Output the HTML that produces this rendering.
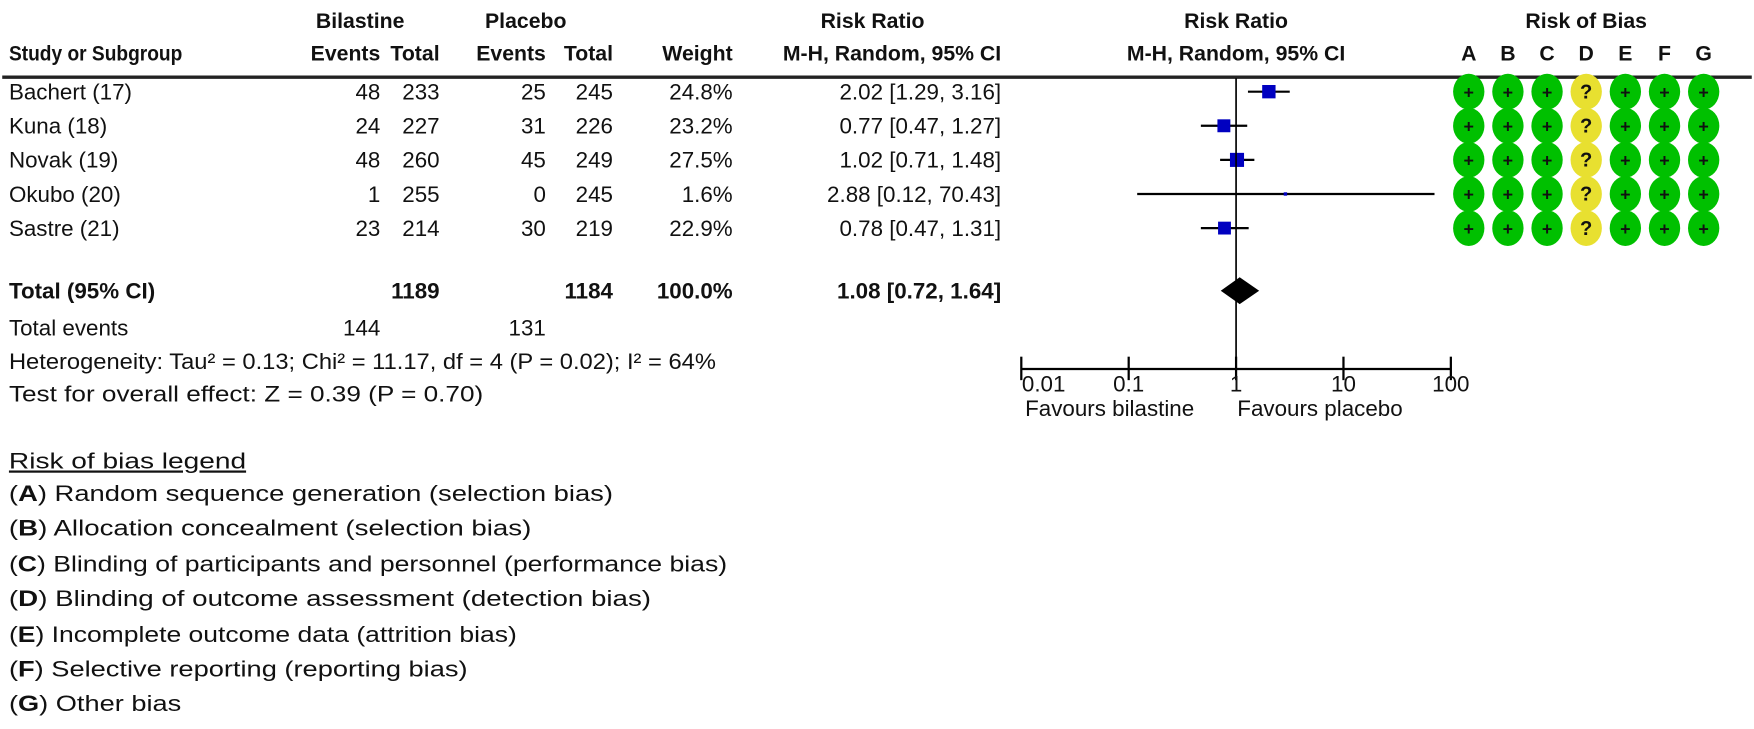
<!DOCTYPE html>
<html><head><meta charset="utf-8">
<style>
html,body{margin:0;padding:0;background:#fff;}
svg{display:block;font-family:"Liberation Sans",Arial,sans-serif;font-size:19px;fill:#111;}
.b{font-weight:bold;}
</style></head>
<body>
<svg id="chart" width="1754" height="729" viewBox="0 0 1568 652" preserveAspectRatio="none" xmlns="http://www.w3.org/2000/svg">
<g class="b">
<text x="322" y="25" text-anchor="middle">Bilastine</text>
<text x="470" y="25" text-anchor="middle">Placebo</text>
<text x="780" y="25" text-anchor="middle">Risk Ratio</text>
<text x="1105" y="25" text-anchor="middle">Risk Ratio</text>
<text x="1418" y="25" text-anchor="middle">Risk of Bias</text>
<text x="8" y="54" textLength="155" lengthAdjust="spacingAndGlyphs">Study or Subgroup</text>
<text x="340" y="54" text-anchor="end">Events</text>
<text x="393" y="54" text-anchor="end">Total</text>
<text x="488" y="54" text-anchor="end">Events</text>
<text x="548" y="54" text-anchor="end">Total</text>
<text x="655" y="54" text-anchor="end">Weight</text>
<text x="895" y="54" text-anchor="end">M-H, Random, 95% CI</text>
<text x="1105" y="54" text-anchor="middle">M-H, Random, 95% CI</text>
</g>
<line x1="2" y1="69" x2="1566" y2="69" stroke="#222" stroke-width="3"/>
<g id="rows" style="font-size:20px"></g>
<g id="plot" style="font-size:20px"></g>
<g id="rob"></g>
<g class="b" style="font-size:20px">
<text x="8" y="267">Total (95% CI)</text>
<text x="393" y="267" text-anchor="end">1189</text>
<text x="548" y="267" text-anchor="end">1184</text>
<text x="655" y="267" text-anchor="end">100.0%</text>
<text x="895" y="267" text-anchor="end">1.08 [0.72, 1.64]</text>
</g>
<g style="font-size:20px">
<text x="8" y="300">Total events</text>
<text x="340" y="300" text-anchor="end">144</text>
<text x="488" y="300" text-anchor="end">131</text>
<text x="8" y="330" textLength="632" lengthAdjust="spacingAndGlyphs">Heterogeneity: Tau² = 0.13; Chi² = 11.17, df = 4 (P = 0.02); I² = 64%</text>
<text x="8" y="359" textLength="424" lengthAdjust="spacingAndGlyphs">Test for overall effect: Z = 0.39 (P = 0.70)</text>
<text x="8" y="419" textLength="212" lengthAdjust="spacingAndGlyphs" text-decoration="underline">Risk of bias legend</text>
<g>
<text x="8" y="448" textLength="540" lengthAdjust="spacingAndGlyphs">(<tspan class="b">A</tspan>) Random sequence generation (selection bias)</text>
<text x="8" y="479" textLength="467" lengthAdjust="spacingAndGlyphs">(<tspan class="b">B</tspan>) Allocation concealment (selection bias)</text>
<text x="8" y="511" textLength="642" lengthAdjust="spacingAndGlyphs">(<tspan class="b">C</tspan>) Blinding of participants and personnel (performance bias)</text>
<text x="8" y="542" textLength="574" lengthAdjust="spacingAndGlyphs">(<tspan class="b">D</tspan>) Blinding of outcome assessment (detection bias)</text>
<text x="8" y="574" textLength="454" lengthAdjust="spacingAndGlyphs">(<tspan class="b">E</tspan>) Incomplete outcome data (attrition bias)</text>
<text x="8" y="605" textLength="410" lengthAdjust="spacingAndGlyphs">(<tspan class="b">F</tspan>) Selective reporting (reporting bias)</text>
<text x="8" y="636" textLength="154" lengthAdjust="spacingAndGlyphs">(<tspan class="b">G</tspan>) Other bias</text>
</g>
</g>
<script>
const studies = ["Bachert (17)","Kuna (18)","Novak (19)","Okubo (20)","Sastre (21)"];
const bilEvents = [48,24,48,1,23];
const bilTotal = [233,227,260,255,214];
const plaEvents = [25,31,45,0,30];
const plaTotal = [245,226,249,245,219];
const weights = [24.8,23.2,27.5,1.6,22.9];
const rr = [2.02,0.77,1.02,2.88,0.78];
const lo = [1.29,0.47,0.71,0.12,0.47];
const hi = [3.16,1.27,1.48,70.43,1.31];
const totalRR = [1.08,0.72,1.64];
const ticks = [0.01,0.1,1,10,100];
const tickLabels = ["0.01","0.1","1","10","100"];
const robLetters = ["A","B","C","D","E","F","G"];
const robJudgements = [
 ["+","+","+","?","+","+","+"],
 ["+","+","+","?","+","+","+"],
 ["+","+","+","?","+","+","+"],
 ["+","+","+","?","+","+","+"],
 ["+","+","+","?","+","+","+"]];

const NS="http://www.w3.org/2000/svg";
const X0=1105, DEC=96;
function xs(v){return X0+DEC*Math.log10(v);}
function rowY(i){return 82+i*30.5;}
function mk(tag,parent,attrs,txt){const e=document.createElementNS(NS,tag);for(const k in attrs)e.setAttribute(k,attrs[k]);if(txt!==undefined)e.textContent=txt;parent.appendChild(e);return e;}
const rows=document.getElementById('rows'), plot=document.getElementById('plot'), rob=document.getElementById('rob');
studies.forEach((s,i)=>{
 const y=rowY(i)+7;
 let t;
 t=mk('text',rows,{x:8,y:y},s);
 
 
 const cols=[[340,bilEvents[i]],[393,bilTotal[i]],[488,plaEvents[i]],[548,plaTotal[i]],[655,weights[i].toFixed(1)+'%'],[895,rr[i].toFixed(2)+' ['+lo[i].toFixed(2)+', '+hi[i].toFixed(2)+']']];
 cols.forEach(c=>{
  t=mk('text',rows,{x:c[0],y:y,'text-anchor':'end'},String(c[1]));
  
  
 });
 const cy=rowY(i);
 let l=mk('line',plot,{x1:xs(lo[i]),x2:xs(hi[i]),y1:cy,y2:cy,stroke:'#000','stroke-width':2});
 
 
 const sz=Math.max(2,Math.sqrt(weights[i])*2.4);
 let r=mk('rect',plot,{x:xs(rr[i])-sz/2,y:cy-sz/2,width:sz,height:sz,fill:'#0000c0'});
 
 
 robJudgements[i].forEach((j,k)=>{
  const cx=1313+k*35;
  let c=mk('ellipse',rob,{cx:cx,cy:cy,rx:14,ry:16,fill:j==='+'?'#00c000':'#e8e030'});
  
  
  let tt=mk('text',rob,{x:cx,y:cy+6,'text-anchor':'middle','font-weight':'bold','font-size':j==='+'?'16':'18',fill:'#111'},j);
  
  
 });
});
robLetters.forEach((L,k)=>{
 let t=mk('text',rob,{x:1313+k*35,y:54,'text-anchor':'middle','font-weight':'bold'},L);
 
 
});
let vl=mk('line',plot,{x1:xs(1),x2:xs(1),y1:70,y2:330,stroke:'#000','stroke-width':1.5});


const dy=260;
let d=mk('polygon',plot,{points:`${xs(totalRR[1])},${dy} ${xs(totalRR[0])},${dy-12} ${xs(totalRR[2])},${dy} ${xs(totalRR[0])},${dy+12}`,fill:'#000'});


let ax=mk('line',plot,{x1:xs(ticks[0]),x2:xs(ticks[ticks.length-1]),y1:330,y2:330,stroke:'#000','stroke-width':2});


ticks.forEach((v,k)=>{
 let tl=mk('line',plot,{x1:xs(v),x2:xs(v),y1:319,y2:340,stroke:'#000','stroke-width':2});
 
 
 let t=mk('text',plot,{x:k===0?xs(v)+20:xs(v),y:350,'text-anchor':'middle'},tickLabels[k]);
 
 
});
let f1=mk('text',plot,{x:992,y:372,'text-anchor':'middle'},'Favours bilastine');


let f2=mk('text',plot,{x:1180,y:372,'text-anchor':'middle'},'Favours placebo');


</script>
</svg>
</body></html>
